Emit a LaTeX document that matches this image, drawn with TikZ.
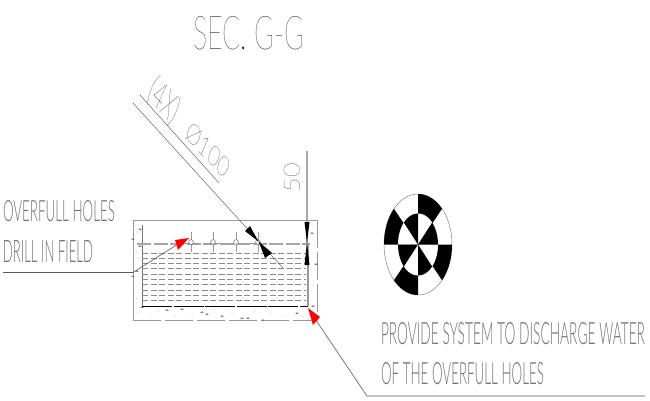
\documentclass[tikz,border=0pt]{standalone}
\usepackage{graphicx}
\usepackage{fontspec}
\setmainfont{Lato Hairline}
\newfontfamily\cadlight{Lato Light}
\usetikzlibrary{calc}
\definecolor{cadgray}{gray}{0}
\newcommand{\cadtext}[3]{\resizebox{#1pt}{#2pt}{#3}}
\tikzset{
  cadlabel/.style={text=cadgray, inner sep=0, outer sep=0},
  smalllabel/.style={cadlabel, text=black!55, font=\cadlight},
  obliquelabel/.style={cadlabel, rotate=-47, xslant=-.42},
  leader/.style={draw=black!65, line width=.6pt},
  redhead/.style={fill=red, draw=none},
  blackhead/.style={fill=black, draw=none},
  waterline/.style={draw=black!45, line width=.5pt, dash pattern=on 6pt off 2.5pt},
  concrete/.style={draw=black!40, line width=.9pt},
}
\begin{document}
\begin{tikzpicture}[x=1pt, y=-1pt]
\useasboundingbox (0,0) rectangle (650,400);
\coordinate (C) at (418,244.5);

% texts
\node[cadlabel, anchor=south west] (title) at (193,50) {\cadtext{111}{33}{SEC. G-G}};
\node[smalllabel, anchor=south west] (holesa) at (3,222) {\cadtext{112}{21}{OVERFULL HOLES}};
\node[smalllabel, anchor=south west] (holesb) at (3,262) {\cadtext{90}{22}{DRILL IN FIELD}};
\node[smalllabel, anchor=south west] (sysa) at (381,345) {\cadtext{264}{22}{PROVIDE SYSTEM TO DISCHARGE WATER}};
\node[smalllabel, anchor=south west] (sysb) at (381,385) {\cadtext{163}{22}{OF THE OVERFULL HOLES}};
\node[obliquelabel] (count) at (164,101) {\resizebox*{38pt}{30pt}{(4X)}};
\node[obliquelabel] (dia) at (208,150) {\cadtext{58}{17}{Ø100}};
\node[cadlabel, rotate=90] (dim) at (292,177.5) {\cadtext{29}{16}{50}};

% concrete outline
\draw[concrete] (133,320) -- (133,220) -- (317,220);
\draw[concrete, dash pattern=on 28pt off 4pt] (317,220) -- (317,320) -- (133,320);
\foreach \x/\y in {167/309, 182/308, 202/311, 207/313, 222/315, 242/317, 248/317, 263/319, 297/312, 313/305,
  142/306, 140/228, 140/245, 133/238, 137/270, 133/275, 312/232, 316/263} {
  \fill[black!50] (\x,\y) -- ++(1.6,1.8) -- ++(-3.2,0) -- cycle;
}
\foreach \x/\y in {135/226, 137/232, 136/252, 138/258, 134/290, 137/298, 139/312, 150/315, 158/311, 175/316,
  192/314, 215/309, 232/312, 255/311, 270/313, 285/316, 302/316, 311/312, 313/285, 311/270, 314/245, 313/225} {
  \fill[black!45] (\x,\y) circle (.5);
}

% tank walls and water
\draw[black!55, line width=.5pt] (142,225) -- (142,306);
\draw[black!40, line width=1.2pt] (308,243) -- (308,306);
\draw[black, line width=1.1pt, dash pattern=on 30pt off 1.5pt] (142,306.5) -- (308,306.5);
\foreach \y in {253,258,263,268,274,279,284,290,295,300} {
  \draw[waterline] (142,\y) -- (306,\y);
}
\draw[black!35, line width=1.1pt, dash pattern=on 14pt off 2.5pt] (137,244) -- (310,244);

% overfull holes
\foreach \x in {191,213,236,258} {
  \draw[black!40, line width=.6pt] (\x,232) -- (\x,252);
  \draw[black!40, line width=.8pt] (\x-8,243) -- (\x+8,243);
  \draw[black!60, line width=.5pt, fill=white] (\x,242) circle (2.4);
}

% dimensions
\coordinate (diatip) at (258.5,241.5);
\coordinate (dimtip) at (307,243);
\draw[black!60, line width=.5pt] (140,95) -- (219,183);
\draw[black!60, line width=.5pt] (133,103) -- (283,268);
\draw[black!35, line width=1.1pt] (307,151) -- (307,265);
\fill[blackhead] (diatip) -- (245,231) -- (250,226) -- cycle;
\fill[blackhead] (diatip) -- (265,258) -- (272,253) -- cycle;
\fill[blackhead] (dimtip) -- (304.5,222) -- (309.5,222) -- cycle;
\fill[blackhead] (dimtip) -- (304.5,265) -- (309.5,265) -- cycle;

% leaders
\coordinate (lefta) at (3,272.5);
\coordinate (leftb) at (133,272.5);
\coordinate (leftc) at (176.5,245);
\coordinate (righta) at (316.5,321);
\coordinate (rightb) at (367,396);
\coordinate (rightc) at (645,396);
\draw[leader] (lefta) -- (leftb) -- (leftc);
\draw[leader] (righta) -- (rightb) -- (rightc);
\fill[redhead] (189,238) -- (175,240) -- (178,250) -- cycle;
\fill[redhead] (308,308) -- (320,317) -- (313,325) -- cycle;

% target disc
\draw[black!50, line width=.5pt] (C) ellipse [x radius=34, y radius=50.5];
\foreach \a in {0,90,180,270} {
  \fill[black] (C) -- ($(C)+({34*cos(\a+45)},{-50.5*sin(\a+45)})$)
    \foreach \t in {50,55,...,90} { -- ($(C)+({34*cos(\a+\t)},{-50.5*sin(\a+\t)})$) } -- cycle;
}
\foreach \a in {0,90,180,270} {
  \fill[white] (C) -- ($(C)+({20*cos(\a)},{-31*sin(\a)})$)
    \foreach \t in {5,10,...,90} { -- ($(C)+({20*cos(\a+\t)},{-31*sin(\a+\t)})$) } -- cycle;
}
\foreach \a in {0,90,180,270} {
  \fill[black] (C) -- ($(C)+({20*cos(\a)},{-31*sin(\a)})$)
    \foreach \t in {5,10,...,45} { -- ($(C)+({20*cos(\a+\t)},{-31*sin(\a+\t)})$) } -- cycle;
}
\end{tikzpicture}
\end{document}
